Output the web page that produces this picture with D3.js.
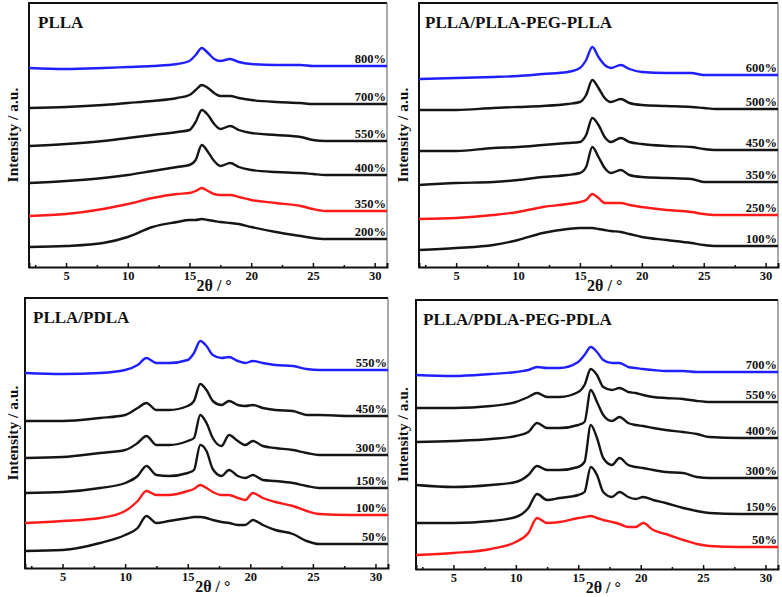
<!DOCTYPE html>
<html>
<head>
<meta charset="utf-8">
<script src="https://cdn.jsdelivr.net/npm/d3@7"></script>
<style>
  html, body { margin: 0; padding: 0; background: #fff; }
  svg { display: block; }
  text { font-family: "Liberation Serif", "Times New Roman", serif; font-weight: bold; fill: #111; }
</style>
</head>
<body>
<svg id="chart" width="782" height="597"></svg>
<script>
// ---------------- DATA ----------------
// 2θ sample positions (degrees)
const xGridTop = [2, 5, 8, 10, 12, 14, 15, 15.5, 16, 16.5, 17, 17.5, 18.3, 19, 20, 22, 24, 25, 26, 28, 31];
const xGridBottom = [2, 5, 8, 10, 11, 11.7, 12.5, 13.5, 15, 15.5, 16, 16.5, 17, 17.7, 18.3, 19, 19.6, 20.2, 21, 22, 23.4, 24.5, 25.5, 28, 31];
const xTicksMajor = [5, 10, 15, 20, 25, 30];
const xTicksMinor = [2.5, 7.5, 12.5, 17.5, 22.5, 27.5];

// Panel titles
const panelTitles = ["PLLA", "PLLA/PLLA-PEG-PLLA", "PLLA/PDLA", "PLLA/PDLA-PEG-PDLA"];

// Panel 1: PLLA (stacked intensities, a.u.)
const plla_labels = ["200%", "350%", "400%", "550%", "700%", "800%"];
const plla_200 = [20, 21, 24, 30, 40, 45, 47, 47, 48, 47, 46, 45, 44, 43, 40, 35, 31, 29, 28, 28, 28];
const plla_350 = [51, 53, 58, 63, 69, 73, 74, 76, 79, 76, 73, 72, 72, 70, 67, 64, 61, 58, 56, 56, 56];
const plla_400 = [84, 86, 89, 92, 96, 100, 102, 107, 122, 115, 106, 101, 104, 100, 97, 95, 94, 93, 92, 92, 92];
const plla_550 = [121, 123, 126, 129, 132, 135, 137, 145, 157, 152, 143, 138, 141, 137, 134, 132, 130, 127, 126, 126, 126];
const plla_700 = [159, 160, 162, 164, 166, 169, 172, 177, 182, 179, 174, 171, 171, 169, 167, 165, 164, 163, 163, 163, 163];
const plla_800 = [199, 198, 199, 200, 201, 203, 206, 212, 219, 214, 208, 206, 208, 205, 203, 202, 202, 201, 201, 201, 201];

// Panel 2: PLLA/PLLA-PEG-PLLA
const peg_labels = ["100%", "250%", "350%", "450%", "500%", "600%"];
const peg_100 = [17, 19, 22, 27, 34, 38, 39, 39, 39, 38, 37, 36, 35, 33, 30, 27, 24, 22, 21, 21, 21];
const peg_250 = [48, 49, 52, 55, 60, 63, 65, 67, 73, 69, 64, 64, 64, 62, 60, 57, 55, 53, 52, 52, 52];
const peg_350 = [82, 84, 85, 87, 90, 92, 94, 100, 120, 110, 99, 94, 97, 92, 90, 89, 88, 85, 85, 85, 85];
const peg_450 = [116, 116, 119, 120, 122, 124, 125, 132, 149, 142, 130, 125, 129, 125, 123, 121, 120, 118, 117, 117, 117];
const peg_500 = [157, 157, 159, 160, 161, 163, 165, 172, 187, 179, 169, 165, 168, 164, 162, 161, 160, 159, 158, 158, 158];
const peg_600 = [188, 189, 190, 191, 193, 195, 199, 207, 220, 210, 202, 199, 202, 198, 195, 194, 194, 192, 192, 192, 192];

// Panel 3: PLLA/PDLA
const sc_labels = ["50%", "100%", "150%", "300%", "450%", "550%"];
const sc_50  = [17, 18, 25, 33, 40, 52, 45, 47, 50, 51, 51, 50, 48, 46, 45, 43, 43, 48, 43, 38, 34, 27, 24, 24, 24];
const sc_100 = [45, 47, 50, 57, 67, 77, 73, 73, 77, 79, 83, 80, 76, 73, 73, 70, 68, 75, 70, 66, 62, 57, 54, 53, 53];
const sc_150 = [75, 76, 80, 85, 92, 102, 93, 92, 95, 98, 123, 117, 99, 92, 98, 92, 90, 93, 88, 87, 85, 82, 80, 80, 80];
const sc_300 = [110, 111, 115, 118, 125, 132, 123, 123, 127, 130, 153, 145, 130, 122, 133, 127, 123, 127, 122, 120, 118, 115, 113, 113, 113];
const sc_450 = [147, 147, 150, 153, 160, 165, 158, 158, 162, 167, 184, 178, 167, 163, 167, 163, 162, 163, 160, 158, 157, 153, 153, 152, 152];
const sc_550 = [195, 194, 195, 198, 203, 210, 205, 205, 208, 215, 227, 222, 213, 210, 211, 207, 205, 207, 205, 203, 202, 199, 198, 198, 198];

// Panel 4: PLLA/PDLA-PEG-PDLA
const scpeg_labels = ["50%", "150%", "300%", "400%", "550%", "700%"];
const scpeg_50  = [14, 16, 20, 27, 36, 51, 46, 47, 51, 52, 53, 51, 49, 47, 45, 42, 42, 46, 39, 35, 29, 25, 23, 22, 22];
const scpeg_150 = [46, 46, 48, 52, 61, 75, 69, 71, 74, 77, 102, 94, 77, 72, 77, 72, 70, 72, 69, 66, 61, 58, 56, 55, 55];
const scpeg_300 = [84, 82, 84, 87, 94, 103, 99, 99, 102, 107, 144, 131, 111, 104, 111, 104, 102, 101, 99, 97, 96, 92, 91, 91, 91];
const scpeg_400 = [127, 128, 130, 133, 137, 146, 141, 141, 144, 147, 179, 167, 154, 148, 152, 146, 144, 143, 141, 139, 137, 135, 132, 131, 131];
const scpeg_550 = [161, 161, 163, 167, 172, 176, 172, 172, 177, 184, 200, 194, 182, 179, 181, 177, 176, 174, 172, 171, 170, 168, 167, 167, 167];
const scpeg_700 = [194, 193, 195, 197, 199, 202, 201, 201, 207, 214, 222, 217, 209, 206, 206, 202, 201, 200, 199, 198, 198, 197, 197, 197, 197];

// ---------------- LAYOUT / STYLE ----------------
const BLACK = "#151515", RED = "#ff1a1a", BLUE = "#2020ff";
const panels = [
  { title: panelTitles[0], x: xGridTop, labels: plla_labels,
    series: [plla_200, plla_350, plla_400, plla_550, plla_700, plla_800],
    colors: [BLACK, RED, BLACK, BLACK, BLACK, BLUE],
    box: { l: 29, r: 387, t: 3, b: 267 }, ylab: 13, titleDx: 9 },
  { title: panelTitles[1], x: xGridTop, labels: peg_labels,
    series: [peg_100, peg_250, peg_350, peg_450, peg_500, peg_600],
    colors: [BLACK, RED, BLACK, BLACK, BLACK, BLUE],
    box: { l: 419, r: 778, t: 3, b: 267 }, ylab: 403, titleDx: 6 },
  { title: panelTitles[2], x: xGridBottom, labels: sc_labels,
    series: [sc_50, sc_100, sc_150, sc_300, sc_450, sc_550],
    colors: [BLACK, RED, BLACK, BLACK, BLACK, BLUE],
    box: { l: 25, r: 388, t: 298, b: 568 }, ylab: 13, titleDx: 8 },
  { title: panelTitles[3], x: xGridBottom, labels: scpeg_labels,
    series: [scpeg_50, scpeg_150, scpeg_300, scpeg_400, scpeg_550, scpeg_700],
    colors: [RED, BLACK, BLACK, BLACK, BLACK, BLUE],
    box: { l: 416, r: 778, t: 300, b: 569 }, ylab: 403, titleDx: 7 }
];

const svg = d3.select("#chart");

panels.forEach(p => {
  const { l, r, t, b } = p.box;
  const x = d3.scaleLinear().domain([2, 31]).range([l, r]);
  const y = d3.scaleLinear().domain([0, b - t]).range([b, t]);
  const g = svg.append("g");

  // frame: left/top thick, right thin, bottom axis thick
  g.append("line").attr("x1", l).attr("x2", r).attr("y1", t).attr("y2", t)
    .attr("stroke", "#111").attr("stroke-width", 2);
  g.append("line").attr("x1", r).attr("x2", r).attr("y1", t).attr("y2", b)
    .attr("stroke", "#555").attr("stroke-width", 1);
  g.append("line").attr("x1", l).attr("x2", l).attr("y1", t - 1).attr("y2", b + 1)
    .attr("stroke", "#111").attr("stroke-width", 2);

  // curves
  const line = d3.line().x(d => x(d[0])).y(d => y(d[1])).curve(d3.curveMonotoneX);
  p.series.forEach((s, i) => {
    const pts = p.x.map((xv, j) => [xv, s[j]]);
    g.append("path").attr("d", line(pts)).attr("fill", "none")
      .attr("stroke", p.colors[i]).attr("stroke-width", 2.4).attr("stroke-linejoin", "round");
    g.append("text").attr("x", r - 1).attr("y", y(s[s.length - 1]) - 3)
      .attr("text-anchor", "end").style("font-size", "12.5px").text(p.labels[i]);
  });

  // bottom axis
  const axis = d3.axisBottom(x).tickValues(xTicksMajor).tickSize(-4).tickPadding(4).tickFormat(d3.format("d"));
  const ax = g.append("g").attr("transform", `translate(0,${b})`).call(axis);
  ax.select(".domain").attr("stroke", "#111").attr("stroke-width", 2);
  ax.selectAll(".tick line").attr("stroke", "#111").attr("stroke-width", 1.5);
  ax.selectAll(".tick text").style("font-size", "12.5px").style("font-family", "Liberation Serif, serif")
    .style("font-weight", "bold").attr("fill", "#111");
  const minor = d3.axisBottom(x).tickValues(xTicksMinor).tickSize(-2).tickFormat("");
  const mx = g.append("g").attr("transform", `translate(0,${b})`).call(minor);
  mx.select(".domain").remove();
  mx.selectAll(".tick line").attr("stroke", "#111").attr("stroke-width", 1.5);

  // titles
  g.append("text").attr("x", l + p.titleDx).attr("y", t + 25)
    .style("font-size", "17px").text(p.title);
  g.append("text").attr("x", x(17)).attr("y", b + 24).attr("text-anchor", "middle")
    .style("font-size", "16px").text("2θ / °");
  g.append("text").attr("transform", `translate(${p.ylab},${(t + b) / 2}) rotate(-90)`)
    .attr("text-anchor", "middle").attr("dy", "0.35em").style("font-size", "15.5px").text("Intensity / a.u.");
});
</script>
</body>
</html>
